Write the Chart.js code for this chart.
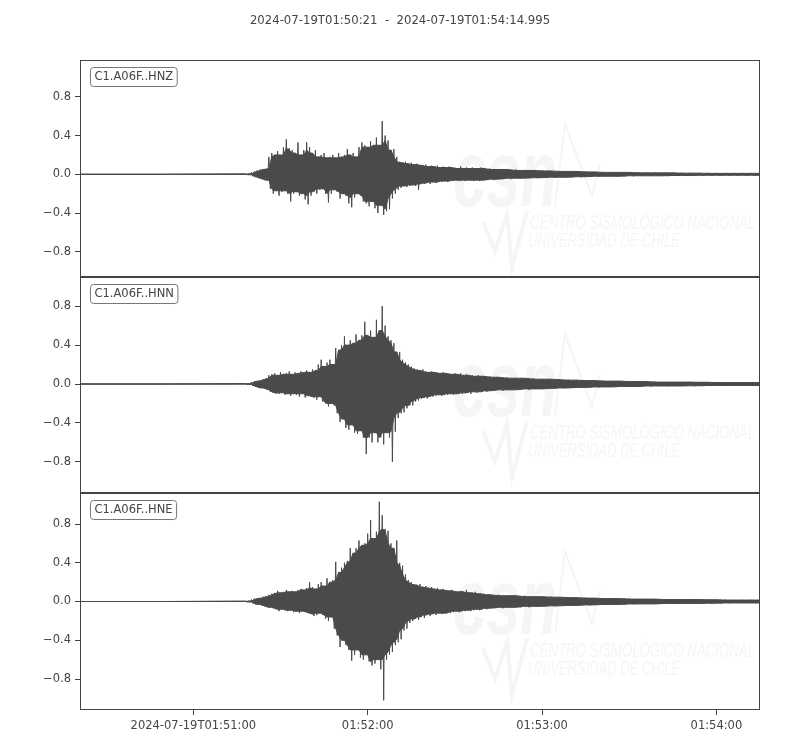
<!DOCTYPE html>
<html>
<head>
<meta charset="utf-8">
<script src="https://cdn.jsdelivr.net/npm/chart.js@4.4.1/dist/chart.umd.min.js"></script>
<style>
  body { margin: 0; background: #fff; }
  #wrap { position: relative; width: 800px; height: 750px; }
  #wrap canvas { position: absolute; left: 0; top: 0; }
</style>
</head>
<body>
<div id="wrap">
  <canvas id="hnz" width="800" height="750"></canvas>
  <canvas id="hnn" width="800" height="750"></canvas>
  <canvas id="hne" width="800" height="750"></canvas>
</div>
<script>
const title = '2024-07-19T01:50:21  -  2024-07-19T01:54:14.995';
const channels = ['C1.A06F..HNZ', 'C1.A06F..HNN', 'C1.A06F..HNE'];

// seconds after 01:50:21, each bin holds the trace max (hi) and min (lo)
const secs = [0,
  57, 58, 59,
  60, 61, 62, 63, 64, 65, 66, 67, 68, 69,
  70, 71, 72, 73, 74, 75, 76, 77, 78, 79,
  80, 81, 82, 83, 84, 85, 86, 87, 88, 89,
  90, 91, 92, 93, 94, 95, 96, 97, 98, 99,
  100, 101, 102, 103, 104, 105, 106, 107, 108, 109,
  110, 111, 112, 113, 114, 115, 116, 117, 118, 119,
  120, 121, 122, 123, 124, 125, 126, 127, 128, 129,
  130, 131, 132, 133, 134, 135, 136, 137, 138, 139,
  141, 144, 147, 150, 153, 156, 159, 162, 165, 168,
  171, 174, 177, 180, 183, 186, 189, 192, 195, 198,
  201, 204, 207, 210, 213, 216, 219, 222, 225, 228,
  231, 234];

const hnzHi = [0,
  0.005, 0.005, 0.02,
  0.03, 0.04, 0.05, 0.05, 0.06, 0.18, 0.22, 0.2, 0.24, 0.2,
  0.28, 0.36, 0.27, 0.25, 0.22, 0.33, 0.2, 0.25, 0.33, 0.28,
  0.22, 0.25, 0.18, 0.2, 0.22, 0.17, 0.18, 0.2, 0.17, 0.22,
  0.18, 0.2, 0.26, 0.2, 0.22, 0.18, 0.28, 0.33, 0.3, 0.28,
  0.34, 0.3, 0.38, 0.3, 0.55, 0.4, 0.35, 0.25, 0.26, 0.18,
  0.13, 0.12, 0.13, 0.11, 0.12, 0.1, 0.11, 0.1, 0.09, 0.1,
  0.08, 0.09, 0.08, 0.09, 0.07, 0.08, 0.07, 0.08, 0.07, 0.07,
  0.06, 0.08, 0.06, 0.07, 0.06, 0.07, 0.06, 0.06, 0.07, 0.06,
  0.06, 0.05, 0.05, 0.05, 0.04, 0.04, 0.04, 0.035, 0.035, 0.03,
  0.03, 0.03, 0.025, 0.025, 0.02, 0.02, 0.02, 0.02, 0.015, 0.015,
  0.015, 0.015, 0.015, 0.012, 0.012, 0.012, 0.01, 0.01, 0.01, 0.01,
  0.01, 0.01];
const hnzLo = [0,
  -0.005, -0.005, -0.02,
  -0.03, -0.04, -0.05, -0.06, -0.06, -0.15, -0.2, -0.17, -0.22, -0.18,
  -0.17, -0.2, -0.28, -0.2, -0.18, -0.22, -0.2, -0.26, -0.31, -0.22,
  -0.18, -0.2, -0.16, -0.15, -0.2, -0.29, -0.2, -0.16, -0.18, -0.25,
  -0.2, -0.22, -0.3, -0.34, -0.24, -0.2, -0.22, -0.28, -0.3, -0.33,
  -0.28, -0.35, -0.4, -0.32, -0.42, -0.38, -0.36, -0.25, -0.2, -0.16,
  -0.14, -0.12, -0.13, -0.12, -0.11, -0.12, -0.16, -0.1, -0.1, -0.09,
  -0.1, -0.08, -0.09, -0.08, -0.08, -0.07, -0.08, -0.07, -0.07, -0.06,
  -0.07, -0.06, -0.07, -0.06, -0.06, -0.07, -0.06, -0.07, -0.06, -0.06,
  -0.06, -0.05, -0.05, -0.04, -0.04, -0.04, -0.035, -0.035, -0.03, -0.03,
  -0.03, -0.025, -0.025, -0.02, -0.02, -0.02, -0.02, -0.015, -0.015, -0.015,
  -0.015, -0.015, -0.012, -0.012, -0.012, -0.01, -0.01, -0.01, -0.01, -0.01,
  -0.01, -0.01];

const hnnHi = [0,
  0.005, 0.005, 0.02,
  0.03, 0.03, 0.04, 0.05, 0.06, 0.09, 0.1, 0.11, 0.09, 0.12,
  0.1, 0.11, 0.13, 0.1, 0.12, 0.11, 0.13, 0.12, 0.14, 0.12,
  0.15, 0.14, 0.2, 0.25, 0.18, 0.22, 0.25, 0.2, 0.37, 0.35,
  0.4, 0.49, 0.4, 0.45, 0.42, 0.51, 0.45, 0.5, 0.64, 0.5,
  0.55, 0.48, 0.66, 0.55, 0.8, 0.6, 0.49, 0.45, 0.42, 0.33,
  0.33, 0.25, 0.22, 0.2, 0.18, 0.16, 0.15, 0.14, 0.15, 0.13,
  0.12, 0.13, 0.12, 0.12, 0.11, 0.12, 0.11, 0.11, 0.1, 0.11,
  0.1, 0.11, 0.09, 0.1, 0.09, 0.09, 0.08, 0.09, 0.08, 0.08,
  0.08, 0.07, 0.07, 0.06, 0.06, 0.06, 0.05, 0.05, 0.05, 0.045,
  0.04, 0.04, 0.035, 0.035, 0.03, 0.03, 0.03, 0.025, 0.025, 0.025,
  0.02, 0.02, 0.02, 0.02, 0.02, 0.018, 0.018, 0.015, 0.015, 0.015,
  0.015, 0.015];
const hnnLo = [0,
  -0.005, -0.005, -0.02,
  -0.03, -0.04, -0.04, -0.05, -0.06, -0.08, -0.09, -0.1, -0.1, -0.09,
  -0.11, -0.1, -0.12, -0.1, -0.11, -0.13, -0.1, -0.14, -0.12, -0.13,
  -0.14, -0.16, -0.13, -0.18, -0.2, -0.23, -0.2, -0.22, -0.3, -0.39,
  -0.36, -0.45, -0.47, -0.42, -0.5, -0.51, -0.48, -0.55, -0.72, -0.55,
  -0.6, -0.5, -0.6, -0.55, -0.62, -0.5, -0.55, -0.8, -0.49, -0.35,
  -0.3, -0.29, -0.25, -0.22, -0.22, -0.18, -0.17, -0.15, -0.14, -0.15,
  -0.13, -0.13, -0.12, -0.11, -0.12, -0.11, -0.11, -0.1, -0.11, -0.1,
  -0.1, -0.1, -0.09, -0.09, -0.1, -0.08, -0.09, -0.08, -0.08, -0.08,
  -0.07, -0.07, -0.06, -0.06, -0.06, -0.05, -0.05, -0.05, -0.045, -0.04,
  -0.04, -0.035, -0.035, -0.03, -0.03, -0.03, -0.025, -0.025, -0.025, -0.02,
  -0.02, -0.02, -0.02, -0.02, -0.018, -0.018, -0.015, -0.015, -0.015, -0.015,
  -0.015, -0.015];

const hneHi = [0,
  0.005, 0.005, 0.02,
  0.03, 0.03, 0.04, 0.05, 0.05, 0.07, 0.08, 0.09, 0.11, 0.09,
  0.1, 0.12, 0.1, 0.11, 0.1, 0.12, 0.13, 0.12, 0.14, 0.2,
  0.15, 0.13, 0.18, 0.2, 0.16, 0.24, 0.2, 0.22, 0.41, 0.3,
  0.35, 0.4, 0.42, 0.55, 0.5, 0.55, 0.63, 0.58, 0.6, 0.7,
  0.84, 0.65, 0.72, 1.03, 0.89, 0.75, 0.73, 0.6, 0.55, 0.63,
  0.4, 0.37, 0.28, 0.22, 0.2, 0.18, 0.17, 0.18, 0.15, 0.16,
  0.14, 0.15, 0.13, 0.14, 0.12, 0.13, 0.12, 0.11, 0.12, 0.11,
  0.1, 0.11, 0.1, 0.12, 0.09, 0.09, 0.1, 0.08, 0.08, 0.08,
  0.07, 0.07, 0.06, 0.06, 0.06, 0.05, 0.05, 0.05, 0.045, 0.045,
  0.04, 0.04, 0.035, 0.035, 0.03, 0.03, 0.03, 0.025, 0.025, 0.025,
  0.025, 0.02, 0.02, 0.02, 0.02, 0.02, 0.018, 0.018, 0.015, 0.015,
  0.015, 0.015];
const hneLo = [0,
  -0.005, -0.005, -0.02,
  -0.03, -0.03, -0.04, -0.05, -0.06, -0.06, -0.07, -0.08, -0.1, -0.08,
  -0.09, -0.1, -0.09, -0.11, -0.1, -0.12, -0.1, -0.11, -0.12, -0.13,
  -0.15, -0.14, -0.12, -0.14, -0.18, -0.2, -0.16, -0.28, -0.35, -0.47,
  -0.4, -0.45, -0.5, -0.61, -0.55, -0.5, -0.58, -0.6, -0.55, -0.62,
  -0.66, -0.64, -0.6, -0.7, -1.02, -0.6, -0.55, -0.52, -0.45, -0.42,
  -0.39, -0.3, -0.28, -0.22, -0.2, -0.18, -0.19, -0.16, -0.17, -0.14,
  -0.15, -0.13, -0.14, -0.12, -0.13, -0.12, -0.12, -0.12, -0.11, -0.1,
  -0.11, -0.1, -0.1, -0.09, -0.1, -0.09, -0.08, -0.09, -0.08, -0.08,
  -0.07, -0.07, -0.06, -0.06, -0.06, -0.05, -0.05, -0.05, -0.045, -0.045,
  -0.04, -0.04, -0.035, -0.035, -0.03, -0.03, -0.03, -0.025, -0.025, -0.025,
  -0.025, -0.02, -0.02, -0.02, -0.02, -0.02, -0.018, -0.018, -0.015, -0.015,
  -0.015, -0.015];

const xTickSecs = [39, 99, 159, 219];
const xTickLabels = ['2024-07-19T01:51:00', '01:52:00', '01:53:00', '01:54:00'];
const yTicks = [-0.8, -0.4, 0, 0.4, 0.8];
const yLimits = [[-1.06, 1.18], [-1.12, 1.10], [-1.12, 1.12]];

const panelTop = [60, 277, 493];
const panelBottom = [277, 493, 710];
const ink = '#444';
const traceColor = '#4a4a4a';
const tickFont = { family: 'DejaVu Sans', size: 11.5 };

function binStep(i, n) {
  return i < n - 1 ? secs[i + 1] - secs[i] : secs[i] - secs[i - 1];
}

// peak trace: max at the bin start, min half a bin later
function zigzag(hi, lo) {
  const pts = [];
  const n = Math.min(secs.length, hi.length, lo.length);
  for (let i = 0; i < n; i++) {
    pts.push({ x: secs[i], y: hi[i] });
    pts.push({ x: secs[i] + binStep(i, n) / 2, y: lo[i] });
  }
  return pts;
}

// dense body of the trace: smallest swing among neighbouring bins
function body(vals) {
  const pts = [];
  const n = Math.min(secs.length, vals.length);
  for (let i = 0; i < n; i++) {
    let v = vals[i];
    if (i > 0 && Math.abs(vals[i - 1]) < Math.abs(v)) v = vals[i - 1];
    if (i < n - 1 && Math.abs(vals[i + 1]) < Math.abs(v)) v = vals[i + 1];
    pts.push({ x: secs[i], y: v });
  }
  return pts;
}

const framePlugin = {
  id: 'frame',
  afterDatasetsDraw(chart) {
    const a = chart.chartArea, ctx = chart.ctx;
    ctx.save();
    ctx.strokeStyle = ink;
    ctx.lineWidth = 1;
    ctx.strokeRect(Math.round(a.left) + 0.5, Math.round(a.top) + 0.5,
      Math.round(a.right - a.left) - 1, Math.round(a.bottom - a.top) - 1);
    ctx.restore();
  }
};

const headerPlugin = {
  id: 'header',
  afterDraw(chart, args, opts) {
    if (!opts.text) return;
    const ctx = chart.ctx;
    ctx.save();
    ctx.font = '11.7px "DejaVu Sans"';
    ctx.fillStyle = ink;
    ctx.textAlign = 'center';
    ctx.textBaseline = 'middle';
    ctx.fillText(opts.text, 400, 20.5);
    ctx.restore();
  }
};

function fitText(ctx, text, x, y, width, font) {
  ctx.save();
  ctx.font = font;
  const k = width / ctx.measureText(text).width;
  ctx.translate(x, y);
  ctx.scale(k, 1);
  ctx.fillText(text, 0, 0);
  ctx.restore();
}

const watermarkPlugin = {
  id: 'watermark',
  beforeDatasetsDraw(chart) {
    const a = chart.chartArea, ctx = chart.ctx;
    const zero = chart.scales.y.getPixelForValue(0);
    const x0 = a.left;
    ctx.save();
    ctx.beginPath();
    ctx.rect(a.left, a.top, a.right - a.left, a.bottom - a.top);
    ctx.clip();
    ctx.fillStyle = '#f5f5f5';
    ctx.strokeStyle = '#f5f5f5';
    fitText(ctx, 'csn', x0 + 373, zero + 32, 104, 'italic bold 94px "Liberation Sans", sans-serif');
    ctx.lineJoin = 'miter';
    ctx.lineWidth = 2;
    ctx.beginPath();
    ctx.moveTo(x0 + 475, zero + 32);
    ctx.lineTo(x0 + 485, zero - 50);
    ctx.lineTo(x0 + 512, zero + 22);
    ctx.lineTo(x0 + 520, zero - 10);
    ctx.stroke();
    ctx.lineWidth = 4;
    ctx.beginPath();
    ctx.moveTo(x0 + 403, zero + 47);
    ctx.lineTo(x0 + 415, zero + 77);
    ctx.lineTo(x0 + 427, zero + 40);
    ctx.lineTo(x0 + 432, zero + 93);
    ctx.lineTo(x0 + 447, zero + 37);
    ctx.stroke();
    fitText(ctx, 'CENTRO SISMOLÓGICO NACIONAL', x0 + 450, zero + 55, 225, 'italic 21px "Liberation Sans", sans-serif');
    fitText(ctx, 'UNIVERSIDAD DE CHILE', x0 + 448, zero + 73, 152, 'italic 21px "Liberation Sans", sans-serif');
    ctx.restore();
  }
};

const labelPlugin = {
  id: 'chanLabel',
  afterDraw(chart, args, opts) {
    const a = chart.chartArea, ctx = chart.ctx;
    ctx.save();
    ctx.font = '11.5px "DejaVu Sans"';
    const w = ctx.measureText(opts.text).width + 8;
    const h = 19;
    const x = a.left + 10.5, y = a.top + 7.5;
    ctx.beginPath();
    ctx.roundRect(x, y, w, h, 3);
    ctx.fillStyle = '#fff';
    ctx.fill();
    ctx.strokeStyle = '#777';
    ctx.lineWidth = 1;
    ctx.stroke();
    ctx.fillStyle = ink;
    ctx.textBaseline = 'middle';
    ctx.fillText(opts.text, x + 4, y + h / 2 + 0.5);
    ctx.restore();
  }
};

function makePanel(id, i, hi, lo) {
  const isLast = i === 2;
  return new Chart(document.getElementById(id), {
    type: 'line',
    data: {
      datasets: [{
        data: zigzag(hi, lo),
        borderColor: traceColor,
        borderWidth: 1,
        pointRadius: 0,
        tension: 0,
        fill: false
      }, {
        data: body(hi),
        borderColor: traceColor,
        backgroundColor: traceColor,
        borderWidth: 1,
        pointRadius: 0,
        tension: 0,
        fill: '+1'
      }, {
        data: body(lo),
        borderColor: traceColor,
        borderWidth: 1,
        pointRadius: 0,
        tension: 0,
        fill: false
      }]
    },
    options: {
      responsive: false,
      animation: false,
      parsing: false,
      events: [],
      layout: {
        padding: {
          left: 0,
          right: 40,
          top: panelTop[i],
          bottom: isLast ? 0 : 750 - panelBottom[i]
        }
      },
      plugins: {
        legend: { display: false },
        tooltip: { enabled: false },
        title: { display: false },
        filler: { propagate: false },
        header: { text: i === 0 ? title : '' },
        chanLabel: { text: channels[i] }
      },
      scales: {
        x: {
          type: 'linear',
          min: 0,
          max: 233.995,
          display: isLast,
          afterFit(s) { if (isLast) s.height = 40; },
          afterBuildTicks(s) { s.ticks = xTickSecs.map(v => ({ value: v })); },
          ticks: {
            autoSkip: false,
            maxRotation: 0,
            color: ink,
            font: tickFont,
            padding: 4,
            callback: v => xTickLabels[xTickSecs.indexOf(v)]
          },
          grid: { drawOnChartArea: false, drawTicks: true, tickLength: 5, color: ink },
          border: { display: false }
        },
        y: {
          min: yLimits[i][0],
          max: yLimits[i][1],
          afterFit(s) { s.width = 80; },
          afterBuildTicks(s) { s.ticks = yTicks.map(v => ({ value: v })); },
          ticks: {
            color: ink,
            font: tickFont,
            padding: 4,
            callback: v => (v < 0 ? '\u2212' : '') + Math.abs(v).toFixed(1)
          },
          grid: { drawOnChartArea: false, drawTicks: true, tickLength: 5, color: ink },
          border: { display: false }
        }
      }
    },
    plugins: [watermarkPlugin, framePlugin, labelPlugin, headerPlugin]
  });
}

makePanel('hnz', 0, hnzHi, hnzLo);
makePanel('hnn', 1, hnnHi, hnnLo);
makePanel('hne', 2, hneHi, hneLo);
</script>
</body>
</html>
